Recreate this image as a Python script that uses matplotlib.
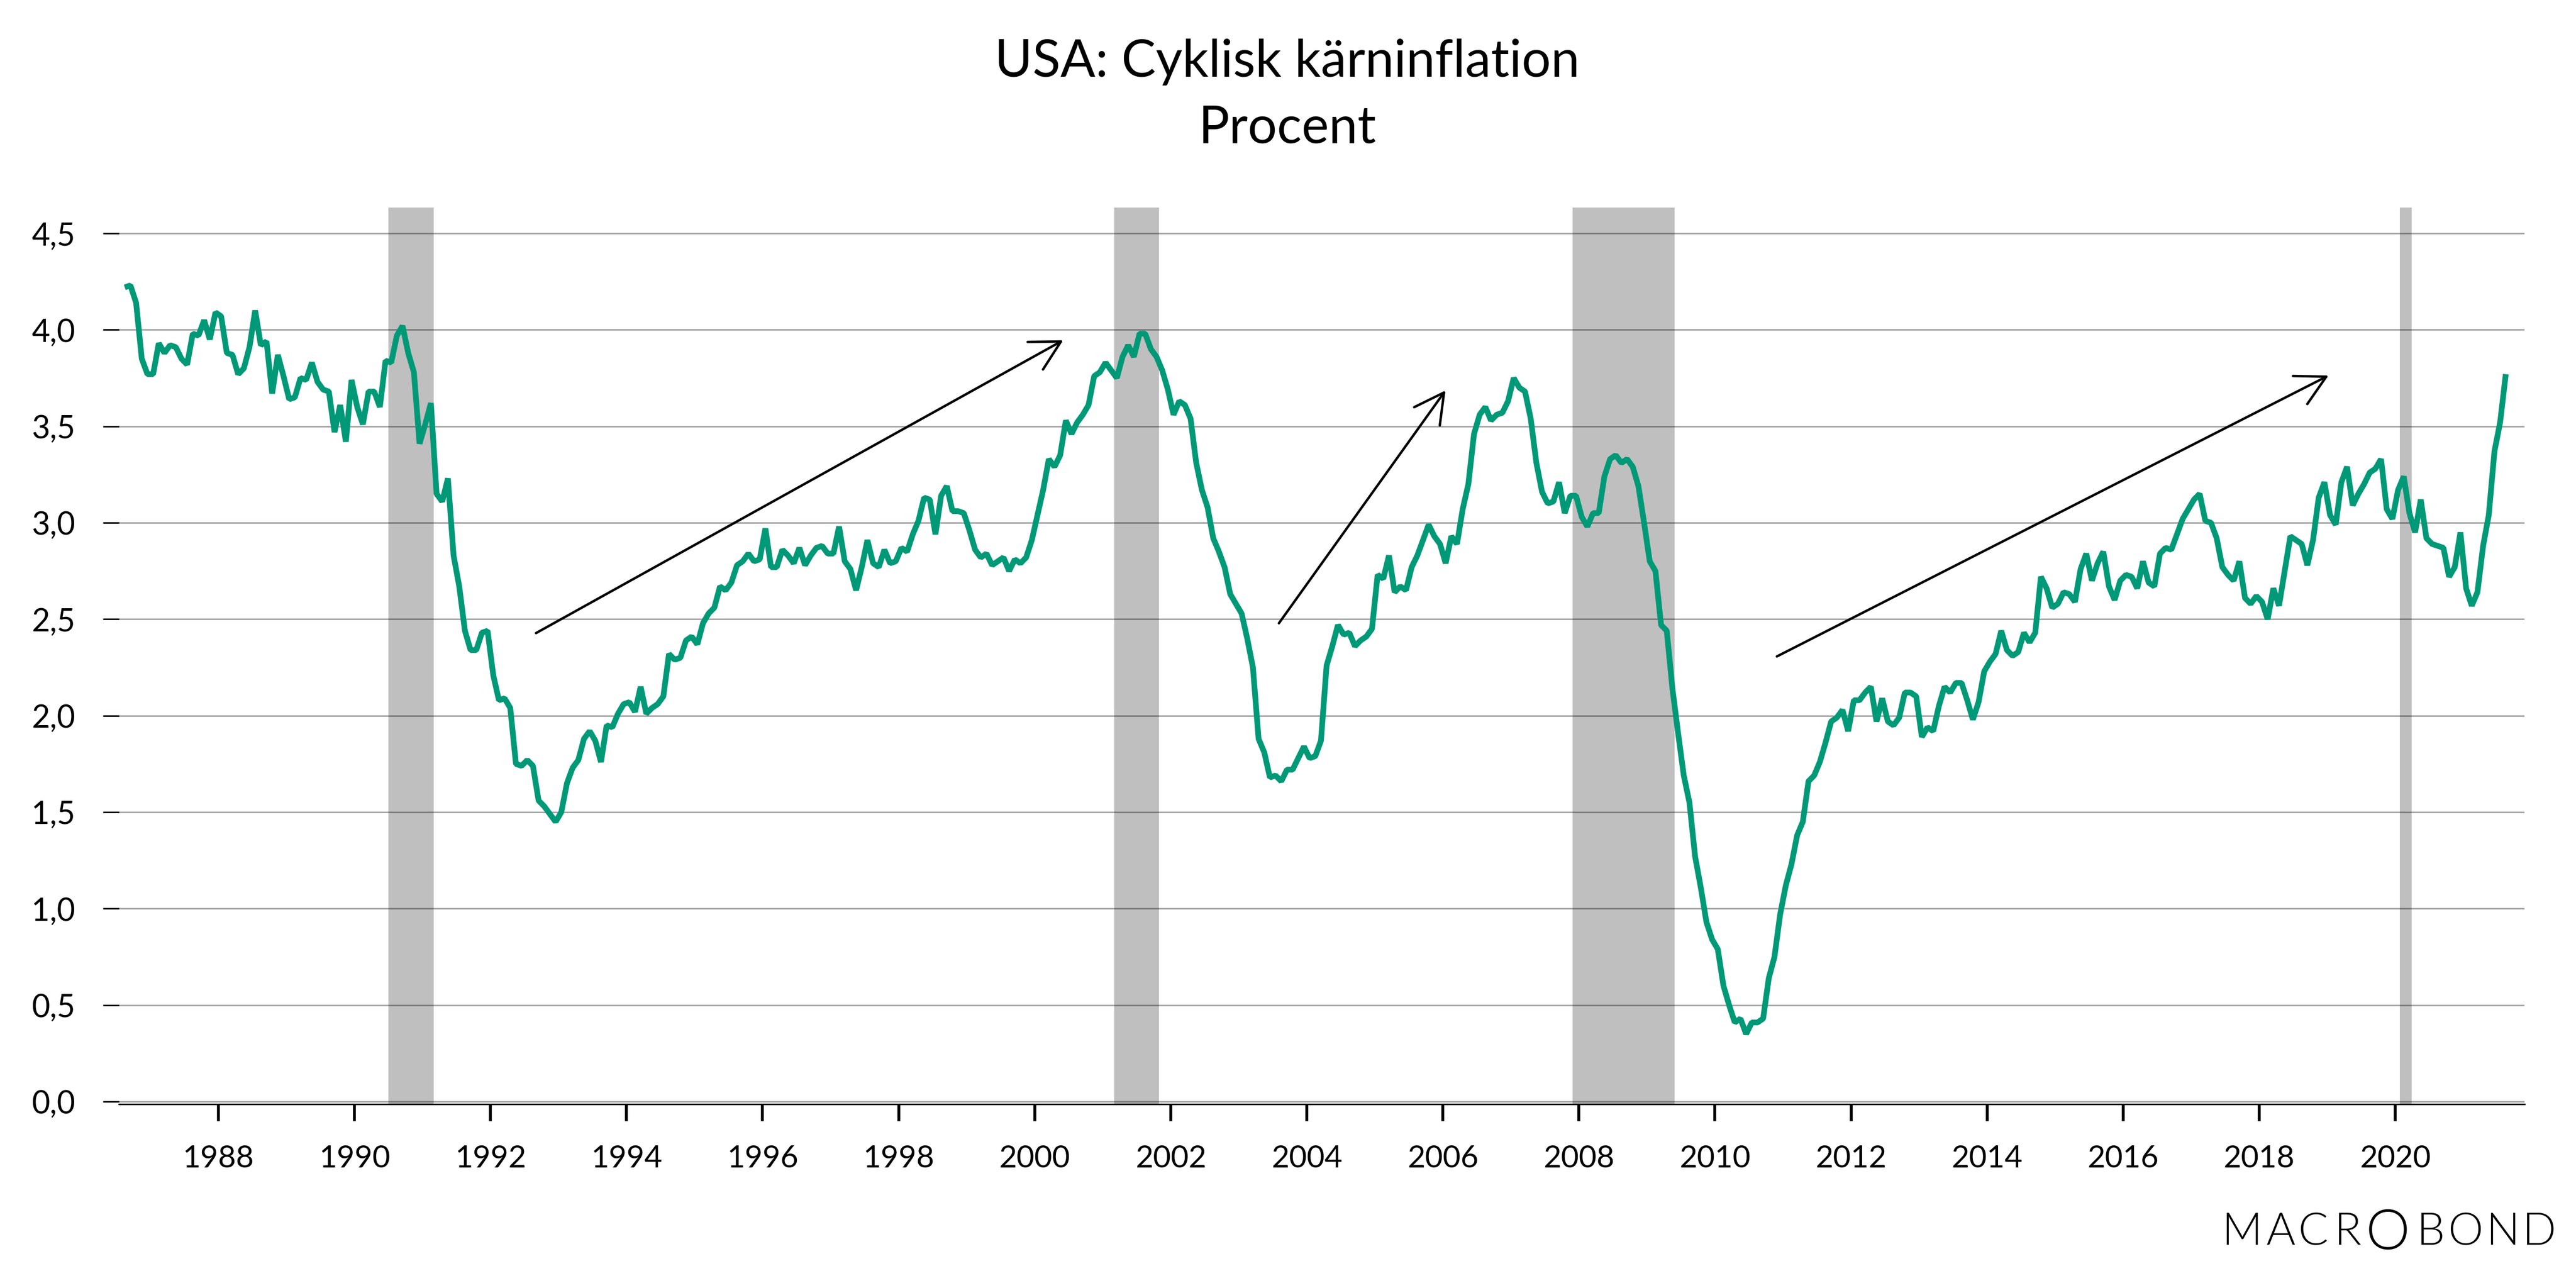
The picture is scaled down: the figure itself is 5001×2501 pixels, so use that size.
import numpy as np
import matplotlib
matplotlib.use('Agg')
import matplotlib.pyplot as plt

plt.rcParams['font.family'] = ['Lato', 'DejaVu Sans']

W, H = 5001, 2501
DPI = 100

# monthly values, aug 1986 onwards
values_a = [
    4.22, 4.23, 4.14, 3.85, 3.77, 3.77, 3.93, 3.88, 3.92, 3.91, 3.85, 3.82,
    3.98, 3.97, 4.05, 3.95, 4.09, 4.07, 3.88, 3.87, 3.77, 3.80, 3.91, 4.10,
    3.92, 3.94, 3.67, 3.87, 3.76, 3.64, 3.65, 3.75, 3.74, 3.83, 3.73, 3.69,
    3.68, 3.47, 3.61, 3.42, 3.74, 3.60, 3.51, 3.68, 3.68, 3.60, 3.84, 3.83,
    3.97, 4.02, 3.88, 3.78, 3.41, 3.51, 3.62, 3.15, 3.11, 3.23, 2.83, 2.67,
    2.44, 2.34, 2.34, 2.43, 2.44, 2.21, 2.08, 2.09, 2.04, 1.75, 1.74, 1.77,
    1.74, 1.56, 1.53, 1.49, 1.45, 1.50, 1.65, 1.73, 1.77, 1.88, 1.92, 1.87,
]
values_b = [
    1.76, 1.95, 1.94, 2.01, 2.06, 2.07, 2.02, 2.15, 2.01, 2.04, 2.06, 2.10,
    2.32, 2.29, 2.30, 2.39, 2.41, 2.37, 2.48, 2.53, 2.56, 2.67, 2.65, 2.69,
    2.78, 2.80, 2.84, 2.80, 2.81, 2.97, 2.77, 2.77, 2.86, 2.83, 2.79, 2.87,
    2.78, 2.83, 2.87, 2.88, 2.84, 2.84, 2.98, 2.80, 2.76, 2.65, 2.77, 2.91,
    2.79, 2.77, 2.86, 2.79, 2.80, 2.87, 2.85, 2.94, 3.01, 3.13, 3.12, 2.94,
    3.14, 3.19, 3.06, 3.06, 3.05, 2.96, 2.86, 2.82, 2.84, 2.78, 2.80, 2.82,
    2.75, 2.81, 2.79, 2.82,
]
values_c = [
    2.91, 3.04, 3.17, 3.33, 3.29, 3.35, 3.53, 3.46, 3.52, 3.56, 3.61, 3.76,
    3.78, 3.83, 3.79, 3.75, 3.86, 3.92, 3.86, 3.98, 3.98, 3.90, 3.86, 3.79,
    3.69, 3.56, 3.63, 3.61, 3.54, 3.31, 3.17, 3.08, 2.92, 2.85, 2.77, 2.63,
    2.58, 2.53, 2.40, 2.25, 1.88, 1.81, 1.68, 1.69, 1.66, 1.72, 1.72, 1.78,
    1.84, 1.78, 1.79, 1.87, 2.26, 2.36, 2.47, 2.42, 2.43, 2.36, 2.39, 2.41,
    2.45, 2.73, 2.71, 2.83, 2.64, 2.67, 2.65, 2.77, 2.83, 2.91, 2.99, 2.93,
    2.89, 2.79, 2.93, 2.89, 3.07, 3.20, 3.46, 3.56, 3.60, 3.53, 3.56, 3.57,
    3.63, 3.75, 3.70, 3.68, 3.54, 3.31, 3.16,
]
values_d = [
    3.10, 3.11, 3.21, 3.05, 3.14, 3.14, 3.03, 2.98, 3.05, 3.05, 3.24, 3.33,
    3.35, 3.31, 3.33, 3.29, 3.19, 3.00, 2.80, 2.75, 2.47, 2.44, 2.14, 1.91,
    1.69, 1.55, 1.27, 1.11, 0.93, 0.84, 0.79, 0.60, 0.50, 0.41, 0.43, 0.35,
    0.41, 0.41, 0.43, 0.64, 0.75, 0.97, 1.12, 1.23, 1.38, 1.45, 1.66, 1.69,
    1.76, 1.86, 1.97, 1.99, 2.03, 1.92, 2.08, 2.08, 2.12, 2.15, 1.97, 2.09,
    1.97, 1.95, 1.99, 2.12, 2.12, 2.10, 1.89, 1.94, 1.92, 2.05, 2.15, 2.12,
]
values_e = [
    2.17, 2.17, 2.08, 1.98, 2.07, 2.23, 2.28, 2.32, 2.44, 2.34, 2.31, 2.33,
    2.43, 2.38, 2.43, 2.72, 2.66, 2.56, 2.58, 2.64, 2.63, 2.59, 2.76, 2.84,
    2.70, 2.79, 2.85, 2.67, 2.60, 2.70, 2.73, 2.72, 2.66, 2.80, 2.69, 2.67,
    2.84, 2.87, 2.86, 2.94, 3.02, 3.07, 3.12, 3.15, 3.01, 3.00, 2.92, 2.77,
    2.73, 2.70, 2.80, 2.61, 2.58, 2.62, 2.59, 2.50, 2.66, 2.57, 2.75, 2.93,
    2.91, 2.89, 2.78, 2.91, 3.13, 3.21, 3.04, 2.99, 3.21, 3.29, 3.09, 3.15,
    3.20, 3.26, 3.28, 3.33, 3.07, 3.02, 3.17, 3.24, 3.05, 2.95, 3.12, 2.92,
    2.89, 2.88, 2.87, 2.72, 2.77, 2.95, 2.66, 2.57, 2.64, 2.88, 3.04, 3.37,
    3.52, 3.77,
]
values = values_a + values_b + values_c + values_d + values_e

START_YEAR = 1986.625  # mid aug 1986
years = START_YEAR + np.arange(len(values)) / 12

# recessions (start, end) in decimal years
recessions = [(1990.50, 1991.165), (2001.165, 2001.83), (2007.91, 2009.41), (2020.07, 2020.24)]

# arrows: (x0, y0, x1, y1)
arrows = [
    (1992.67, 2.428, 2000.42, 3.946),
    (2003.59, 2.479, 2006.04, 3.686),
    (2010.91, 2.307, 2019.02, 3.763),
]

y_ticks = [0.0, 0.5, 1.0, 1.5, 2.0, 2.5, 3.0, 3.5, 4.0, 4.5]
y_labels = ['0,0', '0,5', '1,0', '1,5', '2,0', '2,5', '3,0', '3,5', '4,0', '4,5']
x_ticks = list(range(1988, 2021, 2))

# logo letters: letter, centre x px, baseline y px, size
logo = [('M', 4353, 2417, 62), ('A', 4428, 2417, 62), ('C', 4491, 2417, 62), ('R', 4558, 2417, 62),
        ('O', 4636, 2425, 78), ('B', 4719, 2417, 62), ('O', 4787, 2417, 62), ('N', 4859, 2417, 62),
        ('D', 4930, 2417, 62)]

GREEN = '#009977'

fig = plt.figure(figsize=(W / DPI, H / DPI), dpi=DPI, facecolor='white')
ax = fig.add_axes([231 / W, 1 - 2144 / H, (4901 - 231) / W, (2144 - 402.5) / H])

ax.set_xlim(1986.54, 2021.90)
ax.set_ylim(-0.0133, 4.635)

for s, e in recessions:
    ax.axvspan(s, e, color='black', alpha=0.25, lw=0, zorder=1)

ax.plot(years, values, color=GREEN, lw=8, solid_capstyle='butt', solid_joinstyle='bevel', zorder=3)

for x0, y0, x1, y1 in arrows:
    ax.annotate('', xy=(x1, y1), xytext=(x0, y0), zorder=4,
                arrowprops=dict(arrowstyle='->,head_length=41,head_width=22', mutation_scale=1,
                                color='black', lw=3.4, shrinkA=0, shrinkB=0))

for side in ['top', 'right', 'left']:
    ax.spines[side].set_visible(False)
ax.spines['bottom'].set_linewidth(2.2)

ax.set_yticks(y_ticks, y_labels)
ax.set_xticks(x_ticks, [str(y) for y in x_ticks])
ax.tick_params(axis='y', length=22.3, width=2.2, pad=39, labelsize=44)
ax.tick_params(axis='x', length=23.8, width=4, pad=33, labelsize=43)
ax.yaxis.grid(True, color='#a6a6a6', lw=2.2)
ax.set_axisbelow(True)

fig.text(2499 / W, 1 - 121 / H, 'USA: Cyklisk kärninflation', ha='center', va='center', fontsize=72)
fig.text(2499 / W, 1 - 249 / H, 'Procent', ha='center', va='center', fontsize=72)

for letter, px, py, size in logo:
    fig.text(px / W, 1 - py / H, letter, ha='center', va='baseline', fontsize=size,
             fontweight=300, color='black')

fig.savefig('out.png', dpi=DPI)
